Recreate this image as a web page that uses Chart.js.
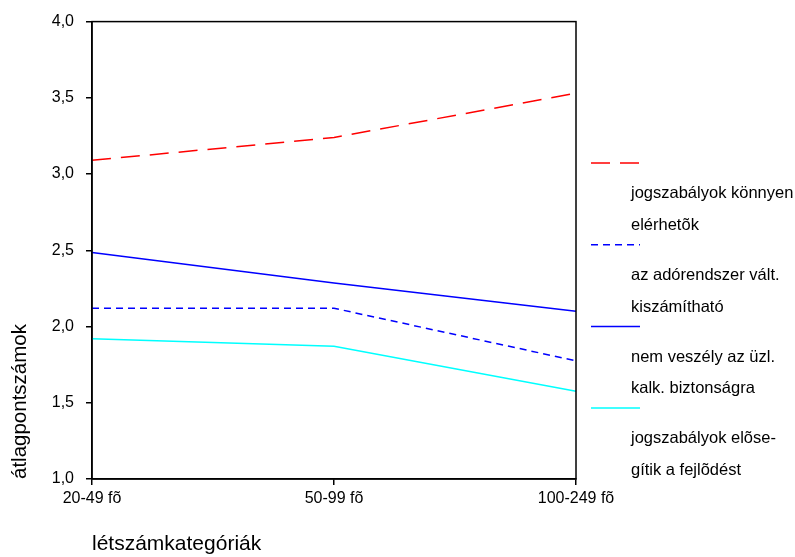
<!DOCTYPE html>
<html>
<head>
<meta charset="utf-8">
<script src="https://cdn.jsdelivr.net/npm/chart.js@4/dist/chart.umd.min.js"></script>
<style>
  body { margin: 0; background: #fff; }
</style>
</head>
<body>
<canvas id="lineChart" width="795" height="557"></canvas>
<script>
var categories = ['20-49 fõ', '50-99 fõ', '100-249 fõ'];
var jogszabalyokKonnyen = [3.09, 3.24, 3.53];
var adorendszerKiszamithato = [2.12, 2.12, 1.775];
var nemVeszely = [2.485, 2.285, 2.10];
var jogszabalyokElosegitik = [1.92, 1.87, 1.575];
var yTicks = [1.0, 1.5, 2.0, 2.5, 3.0, 3.5, 4.0];

var FONT = '"Liberation Sans", Arial, sans-serif';

// frame round the plot area
var framePlugin = {
    id: 'frame',
    afterDraw: function(chart) {
        var a = chart.chartArea, ctx = chart.ctx;
        ctx.save();
        ctx.strokeStyle = '#000';
        ctx.lineWidth = 1.5;
        ctx.strokeRect(a.left, a.top, a.right - a.left, a.bottom - a.top);
        ctx.restore();
    }
};

// legend on the right: line sample, then two text lines under it
var sideLegend = {
    id: 'sideLegend',
    afterDraw: function(chart) {
        var a = chart.chartArea, ctx = chart.ctx;
        ctx.save();
        ctx.font = '16.5px ' + FONT;
        ctx.fillStyle = '#000';
        ctx.textBaseline = 'middle';
        chart.data.datasets.forEach(function(ds, i) {
            var y = 163 + i * 81.7;
            ctx.strokeStyle = ds.borderColor;
            ctx.lineWidth = 1.5;
            ctx.setLineDash(ds.borderDash || []);
            ctx.beginPath();
            ctx.moveTo(a.right + 15, y);
            ctx.lineTo(a.right + 64, y);
            ctx.stroke();
            ctx.setLineDash([]);
            ds.label.forEach(function(line, j) {
                ctx.fillText(line, a.right + 55, y + 30.6 + j * 31.7);
            });
        });
        ctx.restore();
    }
};

var ctx = document.getElementById('lineChart').getContext('2d');
var lineChart = new Chart(ctx, {
    type: 'line',
    data: {
        labels: categories,
        datasets: [{
            label: ['jogszabályok könnyen', 'elérhetõk'],
            data: jogszabalyokKonnyen,
            borderColor: '#ff0000',
            borderDash: [19, 10]
        }, {
            label: ['az adórendszer vált.', 'kiszámítható'],
            data: adorendszerKiszamithato,
            borderColor: '#0000ff',
            borderDash: [7, 5]
        }, {
            label: ['nem veszély az üzl.', 'kalk. biztonságra'],
            data: nemVeszely,
            borderColor: '#0000ff'
        }, {
            label: ['jogszabályok elõse-', 'gítik a fejlõdést'],
            data: jogszabalyokElosegitik,
            borderColor: '#00ffff'
        }]
    },
    options: {
        responsive: false,
        animation: false,
        layout: { padding: { top: 21, right: 219, left: 0, bottom: 0 } },
        elements: {
            line: { borderWidth: 1.5, tension: 0, fill: false },
            point: { radius: 0 }
        },
        plugins: {
            legend: { display: false },
            tooltip: { enabled: false }
        },
        scales: {
            x: {
                offset: false,
                grid: { drawOnChartArea: false, drawTicks: true, tickLength: 6, color: '#000', lineWidth: 1.5 },
                border: { display: true, color: '#000', width: 1.5 },
                ticks: { color: '#000', font: { family: FONT, size: 16 }, padding: 4, maxRotation: 0, autoSkip: false },
                title: {
                    display: true,
                    text: 'létszámkategóriák',
                    align: 'start',
                    color: '#000',
                    font: { family: FONT, size: 21 },
                    padding: { top: 0, bottom: 0 }
                },
                afterFit: function(scale) { scale.height = 78; }
            },
            y: {
                min: 1,
                max: 4,
                afterBuildTicks: function(scale) {
                    scale.ticks = yTicks.map(function(v) { return { value: v }; });
                },
                grid: { drawOnChartArea: false, drawTicks: true, tickLength: 6, color: '#000', lineWidth: 1.5 },
                border: { display: true, color: '#000', width: 1.5 },
                ticks: {
                    color: '#000',
                    font: { family: FONT, size: 16 },
                    padding: 12,
                    callback: function(v) { return Number(v).toFixed(1).replace('.', ','); }
                },
                title: {
                    display: true,
                    text: 'átlagpontszámok',
                    align: 'start',
                    color: '#000',
                    font: { family: FONT, size: 20.5 },
                    padding: { top: 8, bottom: 0 }
                },
                afterFit: function(scale) { scale.width = 92; }
            }
        }
    },
    plugins: [framePlugin, sideLegend]
});
</script>
</body>
</html>
